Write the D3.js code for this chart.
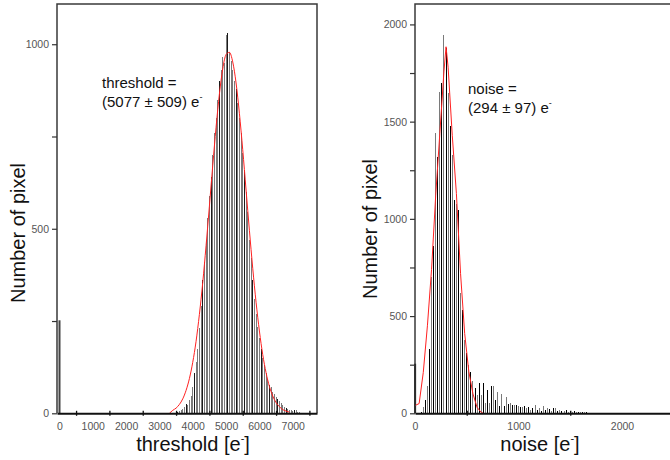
<!DOCTYPE html>
<html><head><meta charset="utf-8">
<script src="https://cdn.jsdelivr.net/npm/d3@7"></script>
<style>
body{margin:0;background:#fff;}
svg{display:block;font-family:"Liberation Sans",Arial,sans-serif;}
</style>
</head><body>
<svg id="c" width="670" height="460"></svg>
<script>
// ---------- threshold histogram ----------
const thrCenters = [3450,3500,3550,3600,3650,3700,3750,3800,3850,3900,3950,4000,4050,4100,4150,4200,4250,4300,4350,4400,4450,4500,4550,4600,4650,4700,4750,4800,4850,4900,4950,5000,5050,5100,5150,5200,5250,5300,5350,5400,5450,5500,5550,5600,5650,5700,5750,5800,5850,5900,5950,6000,6050,6100,6150,6200,6250,6300,6350,6400,6450,6500,6550,6600,6650,6700,6750,6800,6850,6900,6950,7000,7050,7100,7150,7200,7250,7300];
const thrCounts = [0,2,3,5,8,12,18,25,22,35,48,70,110,140,175,230,290,360,410,470,530,590,640,700,760,800,850,900,930,965,950,1025,1030,980,955,930,900,880,840,800,760,705,660,600,545,470,420,360,310,270,235,205,175,150,130,108,92,78,70,58,52,45,38,32,27,22,18,14,12,9,8,6,10,8,4,3,2,1];
const thrZeroX = [0];
const thrZeroCount = [252];
const thrFitX = [3300,3400,3500,3600,3700,3800,3900,4000,4100,4200,4300,4400,4500,4600,4700,4800,4900,5000,5100,5200,5300,5400,5500,5600,5700,5800,5900,6000,6100,6200,6300,6400,6500,6600,6700,6800,6900];
const thrFitY = [0,8,14,24,39,62,94,138,195,268,354,454,561,671,775,865,933,972,978,952,895,813,714,605,496,393,301,223,159,110,73,47,29,18,10,6,3];
const thrXLabels = [0,1000,2000,3000,4000,5000,6000,7000];
const thrXTickMarks = [500,1500,2500,3500,4500,5500,6500,7500];
const thrYTicks = [0,250,500,750,1000];
const thrYLabels = [0,500,1000];

// ---------- noise histogram ----------
const noiseCenters = [0,20,40,60,80,100,120,140,160,180,200,220,240,260,280,300,320,340,360,380,400,420,440,460,480,500,520,540,560,580,600,620,640,660,680,700,720,740,760,780,800,820,840,860,880,900,920,940,960,980,1000,1020,1040,1060,1080,1100,1120,1140,1160,1180,1200,1220,1240,1260,1280,1300,1320,1340,1360,1380,1400,1420,1440,1460,1480,1500,1520,1540,1560,1580,1600,1620,1640,1660,1680,1700,1720,1740,1760,1780,1800];
const noiseCounts = [255,0,0,8,30,70,140,330,700,860,1440,1320,1654,1700,1946,1880,1647,1480,1330,1097,1075,1046,620,531,377,310,248,214,166,129,94,157,94,157,51,120,51,140,140,69,111,38,98,38,86,50,55,43,43,43,40,34,34,36,26,34,17,26,43,17,26,10,38,17,26,20,10,26,26,10,17,14,10,17,6,12,8,10,8,6,8,5,6,8,3,0,2,0,3,0,1];
const noiseFitX = [0,40,80,120,160,200,240,280,300,320,360,400,440,480,520,560,600,640,660];
const noiseFitY = [40,50,210,450,740,1120,1440,1760,1885,1780,1430,1130,720,410,215,100,30,5,0];
const noiseXLabels = [0,1000,2000];
const noiseXTickMarks = [500,1500,2500];
const noiseYTicks = [0,250,500,750,1000,1250,1500,1750,2000];
const noiseYLabels = [0,500,1000,1500,2000];

const svg = d3.select("#c");

function panel(o){
  const g = svg.append("g");
  const x = d3.scaleLinear().domain(o.xDomain).range(o.xRange);
  const y = d3.scaleLinear().domain(o.yDomain).range([413.3, 4]);

  // bars
  g.append("g").attr("shape-rendering","crispEdges")
    .selectAll("rect").data(o.centers).join("rect")
    .attr("x", d => Math.round(x(d) - 0.5))
    .attr("width", 1)
    .attr("y", (d,i) => y(o.counts[i]))
    .attr("height", (d,i) => y(0) - y(o.counts[i]))
    .attr("fill", (d,i) => o.barColor(i));

  // zero bar
  g.append("g").selectAll("rect").data(o.zeroX).join("rect")
    .attr("x", d => x(d) - 0.9).attr("width", 2)
    .attr("y", (d,i) => y(o.zeroCount[i]))
    .attr("height", (d,i) => y(0) - y(o.zeroCount[i]))
    .attr("fill", o.zeroColor);

  // fit curve
  const line = d3.line().x(d => x(d[0])).y(d => y(d[1])).curve(o.curve);
  g.append("path").datum(o.fitX.map((v,i) => [v, o.fitY[i]]))
    .attr("d", line).attr("fill","none").attr("stroke","#ff2020").attr("stroke-width",1);

  // frame
  const [x0, x1] = o.xRange;
  g.append("path").attr("d", `M${x0},413.3V4H${x1}V413.3`)
    .attr("fill","none").attr("stroke","#3a3a3a").attr("stroke-width",1.5);

  // x axis labels (no tick marks)
  const xa = g.append("g").attr("transform","translate(0,413.3)")
    .call(d3.axisBottom(x).tickValues(o.xLabels).tickSize(0).tickPadding(9).tickFormat(d3.format("d")));
  xa.select(".domain").attr("stroke","#111").attr("stroke-width",2);
  xa.selectAll("text").attr("font-size","10.5px").attr("fill","#555")
    .attr("font-family",'"Liberation Sans",Arial,sans-serif');

  // x axis tick marks crossing the axis
  const xt = g.append("g").attr("transform","translate(0,413.3)")
    .call(d3.axisBottom(x).tickValues(o.xTickMarks).tickSize(3).tickFormat(""));
  xt.select(".domain").remove();
  xt.selectAll(".tick line").attr("y1",-2.5).attr("y2",2.5).attr("stroke","#111").attr("stroke-width",1.3);

  // y axis
  const ya = g.append("g").attr("transform",`translate(${x0},0)`)
    .call(d3.axisLeft(y).tickValues(o.yTicks).tickSize(5).tickPadding(3)
      .tickFormat(d => o.yLabels.includes(d) ? d : ""));
  ya.select(".domain").remove();
  ya.selectAll(".tick line").attr("stroke","#333").attr("stroke-width",1.2);
  ya.selectAll("text").attr("font-size","10.5px").attr("fill","#555")
    .attr("font-family",'"Liberation Sans",Arial,sans-serif');

  // y title
  g.append("text").attr("transform",`translate(${o.yTitleX},${o.yTitleY}) rotate(-90)`)
    .attr("text-anchor","middle").attr("font-size","20px").attr("fill","#111")
    .text("Number of pixel");

  // x title
  const xtT = g.append("text").attr("x", o.xTitleX).attr("y", 451)
    .attr("text-anchor","middle").attr("font-size","20px").attr("fill","#111");
  xtT.append("tspan").text(o.xTitle + " [e");
  xtT.append("tspan").attr("dy",-9).attr("font-size","11px").text("-");
  xtT.append("tspan").attr("dy",9).text("]");

  // annotation
  const a1 = g.append("text").attr("x", o.annX).attr("y", o.annY).attr("font-size","15px").attr("fill","#111")
    .text(o.ann1);
  const a2 = g.append("text").attr("x", o.annX).attr("y", o.annY + 19).attr("font-size","15px").attr("fill","#111");
  a2.append("tspan").text(o.ann2 + " e");
  a2.append("tspan").attr("dy",-7).attr("font-size","9px").text("-");
}

panel({
  xDomain:[-72, 7728], xRange:[57, 317], yDomain:[0, 1109],
  centers: thrCenters, counts: thrCounts,
  barColor: i => (i % 5 === 2 ? "#1a1a1a" : "#7a7a7a"),
  zeroX: thrZeroX, zeroCount: thrZeroCount, zeroColor:"#444",
  fitX: thrFitX, fitY: thrFitY, curve: d3.curveMonotoneX,
  xLabels: thrXLabels, xTickMarks: thrXTickMarks,
  yTicks: thrYTicks, yLabels: thrYLabels,
  yTitleX: 25, yTitleY: 233,
  xTitle: "threshold", xTitleX: 193,
  ann1: "threshold =", ann2: "(5077 \u00B1 509)", annX: 102, annY: 87.5
});

panel({
  xDomain:[0, 2657], xRange:[415, 690], yDomain:[0, 2105],
  centers: noiseCenters.slice(1), counts: noiseCounts.slice(1),
  barColor: i => (i % 2 === 0 ? "#000" : "#7a7a7a"),
  zeroX: [noiseCenters[0]], zeroCount: [noiseCounts[0]], zeroColor:"#000",
  fitX: noiseFitX, fitY: noiseFitY, curve: d3.curveLinear,
  xLabels: noiseXLabels, xTickMarks: noiseXTickMarks,
  yTicks: noiseYTicks, yLabels: noiseYLabels,
  yTitleX: 377, yTitleY: 229,
  xTitle: "noise", xTitleX: 540,
  ann1: "noise =", ann2: "(294 \u00B1 97)", annX: 468, annY: 93.5
});
</script>
</body></html>
